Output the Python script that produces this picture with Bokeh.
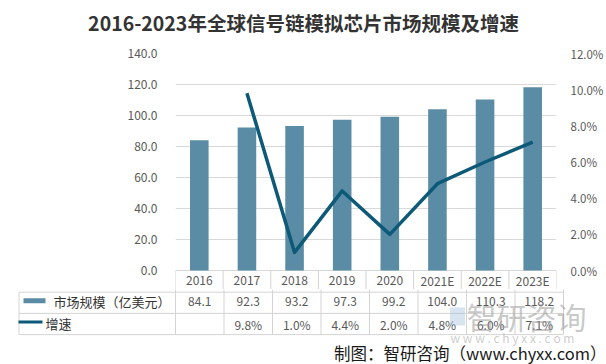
from bokeh.plotting import figure
from bokeh.models import (Range1d, FactorRange, LinearAxis, FixedTicker,
                          PrintfTickFormatter, ColumnDataSource)
from bokeh.layouts import column
from bokeh.embed import file_html
from bokeh.resources import INLINE
from bokeh.core.properties import value

# ---------------- data ----------------
categories = ["2016", "2017", "2018", "2019", "2020", "2021E", "2022E", "2023E"]
market_size = [84.1, 92.3, 93.2, 97.3, 99.2, 104.0, 110.3, 118.2]
growth_categories = ["2017", "2018", "2019", "2020", "2021E", "2022E", "2023E"]
growth_rate = [9.8, 1.0, 4.4, 2.0, 4.8, 6.0, 7.1]
left_ticks = [0, 20, 40, 60, 80, 100, 120, 140]
right_ticks = [0, 2, 4, 6, 8, 10, 12]
title_text = "2016-2023年全球信号链模拟芯片市场规模及增速"
legend_names = ["市场规模（亿美元）", "增速"]
footer_text = "制图：智研咨询（www.chyxx.com）"
watermark_text = "智研咨询"
watermark_url = "w w w . c h y x x . c o m"

# ---------------- style / layout constants ----------------
FONT = "Noto Sans CJK SC"
BAR = "#5B8CA5"
LINE = "#0D5A78"
GRID = "#D9D9D9"
TABLE = "#D4D4D4"
TXT = "#595959"

W, H = 606, 364
TITLE_H = 43
PAD_TOP = 10
LEFT = 175
RIGHT = 43
FRAME_W = W - LEFT - RIGHT          # 388
PLOT_H = 217                         # 0..140 span in pixels
EXT = 19                             # frame extension below the zero line (header row)
CHART_H = PAD_TOP + PLOT_H + EXT
TABLE_H = H - TITLE_H - CHART_H
TABLE_LEFT = 17
ROW_H = 21.2
n = len(categories)
px_per_cat = FRAME_W / n
y_max = left_ticks[-1]
units_per_px = y_max / PLOT_H
y_ext = EXT * units_per_px

# ---------------- title strip ----------------
tf = figure(width=W, height=TITLE_H, x_range=Range1d(0, 1), y_range=Range1d(0, 1),
            output_backend="svg", toolbar_location=None, min_border=0, title=None,
            x_axis_location=None, y_axis_location=None, frame_align=False)
tf.grid.visible = False
tf.outline_line_color = None
tf.text(x=[0.5], y=[1 - 22.0 / TITLE_H], text=[title_text], text_align="center",
        text_baseline="middle", text_font=value(FONT), text_font_size="19.5px",
        text_font_style="bold", text_color="#333333")

# ---------------- chart ----------------
p = figure(width=W, height=CHART_H, x_range=FactorRange(*categories),
           y_range=Range1d(-y_ext, y_max), output_backend="svg", toolbar_location=None,
           min_border_left=LEFT, min_border_right=RIGHT, min_border_top=PAD_TOP,
           min_border_bottom=0, title=None, x_axis_location=None, frame_align=False)
p.extra_y_ranges = {"pct": Range1d(-right_ticks[-1] * EXT / PLOT_H, right_ticks[-1])}
p.outline_line_color = None
p.xgrid.visible = False
p.ygrid.ticker = FixedTicker(ticks=left_ticks)
p.ygrid.grid_line_color = GRID
p.ygrid.grid_line_width = 1

p.vbar(x=categories, top=market_size, width=0.39, color=BAR, line_color=None)
p.line(x=growth_categories, y=growth_rate, y_range_name="pct", line_color=LINE,
       line_width=3.5, line_join="round")
# header row of the data table (category names) below the zero line
p.segment(x0=list(range(n + 1)), y0=[-y_ext] * (n + 1), x1=list(range(n + 1)),
          y1=[0] * (n + 1), line_color=TABLE, line_width=1)
p.text(x=categories, y=[-9.8 * units_per_px] * n, text=categories, text_align="center",
       text_baseline="middle", text_font=value(FONT), text_font_size="12px",
       text_color=TXT)

ya = p.yaxis[0]
ya.ticker = FixedTicker(ticks=left_ticks)
ya.formatter = PrintfTickFormatter(format="%.1f")
ya.axis_line_color = None
ya.major_tick_line_color = None
ya.minor_tick_line_color = None
ya.major_label_standoff = 12
ya.major_label_text_font = FONT
ya.major_label_text_font_size = "12px"
ya.major_label_text_color = TXT

ra = LinearAxis(y_range_name="pct", ticker=FixedTicker(ticks=right_ticks),
                formatter=PrintfTickFormatter(format="%.1f%%"))
ra.axis_line_color = None
ra.major_tick_line_color = None
ra.minor_tick_line_color = None
ra.major_label_standoff = 8
ra.major_label_text_font = FONT
ra.major_label_text_font_size = "11.5px"
ra.major_label_text_color = TXT
p.add_layout(ra, "right")

# ---------------- data table rows ----------------
def px2x(px):
    return (px - LEFT) / px_per_cat

x_start = px2x(TABLE_LEFT)
x_end = px2x(W)
y_top = (EXT - 0.5) / ROW_H
y_bottom = y_top + TABLE_H / ROW_H

t = figure(width=W, height=TABLE_H,
           x_range=Range1d(x_start, x_end), y_range=Range1d(y_bottom, y_top),
           output_backend="svg", toolbar_location=None, title=None,
           min_border_left=TABLE_LEFT, min_border_right=0, min_border_top=0, min_border_bottom=0,
           x_axis_location=None, y_axis_location=None, frame_align=False)
t.grid.visible = False
t.outline_line_color = None

left_edge = px2x(TABLE_LEFT + 1.5)
t.segment(x0=[left_edge] * 3, y0=[1, 2, 3], x1=[n] * 3, y1=[1, 2, 3],
          line_color=TABLE, line_width=1)
t.segment(x0=list(range(n + 1)), y0=[y_top] * (n + 1), x1=list(range(n + 1)), y1=[3] * (n + 1),
          line_color=TABLE, line_width=1)
t.segment(x0=[left_edge], y0=[1], x1=[left_edge], y1=[3], line_color=TABLE, line_width=1)

centers = [i + 0.5 for i in range(n)]
src = ColumnDataSource(dict(
    x=centers,
    mkt=["%.1f" % v for v in market_size],
    gr=[""] + ["%.1f%%" % v for v in growth_rate],
))
common = dict(text_align="center", text_baseline="middle", text_font=value(FONT),
              text_font_size="12px", text_color=TXT)
t.text(x="x", y=1.44, text="mkt", source=src, **common)
t.text(x="x", y=2.5, text="gr", source=src, **common)

# legend column
t.rect(x=[px2x(34)], y=[1.40], width=22, height=5, width_units="screen",
       height_units="screen", fill_color=BAR, line_color=None)
t.text(x=[px2x(53)], y=[1.42], text=[legend_names[0]], text_align="left",
       text_baseline="middle", text_font=value(FONT), text_font_size="13px",
       text_color="#333333")
t.segment(x0=[px2x(18)], y0=[2.40], x1=[px2x(42)], y1=[2.40], line_color=LINE, line_width=3)
t.text(x=[px2x(45)], y=[2.46], text=[legend_names[1]], text_align="left",
       text_baseline="middle", text_font=value(FONT), text_font_size="13px",
       text_color="#333333")

# watermark
t.rect(x=[px2x(457)], y=[2.15], width=15, height=18, width_units="screen",
       height_units="screen", fill_color="#9DBCD6", fill_alpha=0.4, line_color=None)
t.text(x=[px2x(526)], y=[2.1], text=[watermark_text], text_align="center",
       text_baseline="middle", text_font=value(FONT), text_font_size="30px",
       text_color="#9A9A9A", text_alpha=0.55)
t.text(x=[px2x(512)], y=[3.12], text=[watermark_url], text_align="center",
       text_baseline="middle", text_font=value(FONT), text_font_size="12px",
       text_color="#9A9A9A", text_alpha=0.5)

# footer
t.text(x=[px2x(W)], y=[3.85], text=[footer_text], text_align="right",
       text_baseline="middle", text_font=value(FONT), text_font_size="16.5px",
       text_color="#1A1A1A")

layout = column(tf, p, t, spacing=0)
open("out.html", "w").write(file_html(layout, INLINE))
